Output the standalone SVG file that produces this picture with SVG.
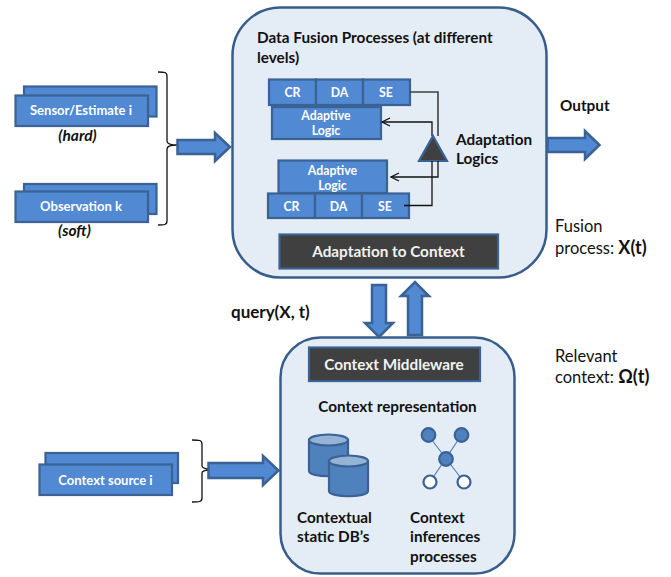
<svg xmlns="http://www.w3.org/2000/svg" width="671" height="577" viewBox="0 0 671 577">
<defs>
<style>
text{font-family:"Lato","Liberation Sans",sans-serif;font-weight:700;font-size:15.3px;fill:#111}
.w{fill:#fff;font-size:13px;text-anchor:middle}
.s{fill:#fff;font-size:12.3px;text-anchor:middle}
.big{fill:#f2f2f2;font-size:15.3px;text-anchor:middle}
.n{font-weight:400;font-size:16.5px}
.nb{font-weight:700;font-size:18px}
.i{font-style:italic;font-size:15.5px;text-anchor:middle}
.pane{fill:#e4ecf6;stroke:#385d8a;stroke-width:2.5}
.b{fill:#5189d3;stroke:#3a6294;stroke-width:2.2}
.d{fill:#404040;stroke:#3a6294;stroke-width:2.2}
.a{fill:#5189d3;stroke:#3a6294;stroke-width:2.5;stroke-linejoin:miter}
.l{fill:none;stroke:#111;stroke-width:1.3}
.g{fill:none;stroke:#404040;stroke-width:1.6}
.net{stroke:#4f81bd;stroke-width:1.2}
.cy{fill:#4f81bd;stroke:#3a6294;stroke-width:2.2}
.top{fill:#95b3d7;stroke:#3a6294;stroke-width:2.2}
</style>
<marker id="open" markerWidth="11" markerHeight="11" refX="9" refY="5" orient="auto" markerUnits="userSpaceOnUse"><path d="M1 1L9 5L1 9" fill="none" stroke="#111" stroke-width="1.3"/></marker>
</defs>
<rect width="671" height="577" fill="#fff"/>
<g id="fusion-pane">
<rect class="pane" x="232.500" y="7.500" width="314" height="270" rx="48"/>
<text x="257" y="43">Data Fusion Processes (at different</text>
<text x="257" y="63">levels)</text>
</g>
<g id="context-pane">
<rect class="pane" x="280.500" y="337.500" width="234" height="236" rx="40"/>
<text x="397.500" y="412" text-anchor="middle">Context representation</text>
</g>
<g id="connectors">
<path class="l" d="M158 72C164 72 167 72 167 76V141C167 144 170 145 177 145C170 145 167 146 167 149V221C167 225 164 225 158 225"/>
<path class="l" d="M192 440C199 440 202 440 202 444V466C202 468 205 469 212 469.500C205 470 202 471 202 473V498C202 502 199 502 192 502"/>
<path class="a" d="M177.500 140H215V133L230 147L215 161V154H177.500Z"/>
<path class="a" d="M208.500 463H263V456L278.500 470.500L263 485V478H208.500Z"/>
<path class="a" d="M547.500 138H585V131L599.500 145L585 159V152H547.500Z"/>
<path class="a" d="M372 285H386V323H393L379 337L365 323H372Z"/>
<path class="a" d="M408 335V296H401L415 282L429 296H422V335Z"/>
</g>
<g id="cells-top">
<rect class="b" x="269" y="79.500" width="47" height="25.500"/>
<rect class="b" x="316" y="79.500" width="47" height="25.500"/>
<rect class="b" x="363" y="79.500" width="47" height="25.500"/>
<text class="s" x="292.500" y="96.500">CR</text>
<text class="s" x="339.500" y="96.500">DA</text>
<text class="s" x="386" y="96.500">SE</text>
</g>
<g id="adaptive-top">
<rect class="b" x="272" y="107" width="109" height="32"/>
<text class="s" x="326" y="119.500">Adaptive</text>
<text class="s" x="326" y="135">Logic</text>
</g>
<g id="adaptive-bottom">
<rect class="b" x="278.500" y="160.500" width="108.500" height="32.500"/>
<text class="s" x="332.500" y="174.500">Adaptive</text>
<text class="s" x="332.500" y="189.500">Logic</text>
</g>
<g id="cells-bottom">
<rect class="b" x="268" y="193.500" width="47" height="24.500"/>
<rect class="b" x="315" y="193.500" width="47" height="24.500"/>
<rect class="b" x="362" y="193.500" width="47" height="24.500"/>
<text class="s" x="291.500" y="210.500">CR</text>
<text class="s" x="338.500" y="210.500">DA</text>
<text class="s" x="385" y="210.500">SE</text>
</g>
<g id="adaptation-logics">
<path class="g" d="M410 92H438V136"/>
<path class="l" d="M432 136V122H382" marker-end="url(#open)"/>
<path d="M433 136L447 161H419Z" fill="#404040" stroke="#3a6294" stroke-width="2.2"/>
<path class="l" d="M438 161V177H391" marker-end="url(#open)"/>
<path class="l" d="M404 205.500H432V161"/>
<text x="456" y="145">Adaptation</text>
<text x="456" y="164">Logics</text>
</g>
<g id="adaptation-context">
<rect class="d" x="279.500" y="234.500" width="218.500" height="34"/>
<text class="big" x="388.500" y="257">Adaptation to Context</text>
</g>
<g id="sensor">
<rect class="b" x="24" y="86.500" width="132.500" height="30"/>
<rect class="b" x="15.500" y="95.500" width="132.500" height="30.500"/>
<text class="w" x="81" y="115">Sensor/Estimate i</text>
<text class="i" x="77.500" y="141">(hard)</text>
</g>
<g id="observation">
<rect class="b" x="24" y="184" width="132.500" height="30"/>
<rect class="b" x="15.500" y="191.500" width="132.500" height="30.500"/>
<text class="w" x="81" y="211">Observation k</text>
<text class="i" x="74.500" y="236">(soft)</text>
</g>
<g id="context-source">
<rect class="b" x="45.500" y="453" width="132.500" height="30"/>
<rect class="b" x="39.500" y="464.500" width="132.500" height="30.500"/>
<text class="w" x="105.500" y="485">Context source i</text>
</g>
<g id="middleware">
<rect class="d" x="309" y="347.500" width="171" height="33.500"/>
<text class="big" x="394" y="370">Context Middleware</text>
</g>
<g id="databases">
<path class="cy" d="M309 440V471C309 478 348 478 348 471V440Z"/>
<ellipse class="top" cx="328.500" cy="440" rx="19.500" ry="5.500"/>
<path class="cy" d="M329 461V491C329 498 368 498 368 491V461Z"/>
<ellipse class="top" cx="348.500" cy="461" rx="19.500" ry="5.500"/>
<text x="297" y="523">Contextual</text>
<text x="297" y="542">static DB’s</text>
</g>
<g id="inference">
<path class="net" d="M428 435L464 482M461.500 435L430 482"/>
<circle class="cy" cx="428.500" cy="435" r="6.800"/>
<circle class="cy" cx="461.500" cy="435" r="6.800"/>
<circle class="cy" cx="446" cy="459" r="6.800"/>
<circle cx="430" cy="482" r="6.500" fill="#fff" stroke="#3a6294" stroke-width="2.2"/>
<circle cx="464" cy="482" r="6.500" fill="#fff" stroke="#3a6294" stroke-width="2.2"/>
<text x="410" y="523">Context</text>
<text x="410" y="542">inferences</text>
<text x="410" y="562">processes</text>
</g>
<g id="labels">
<text x="560" y="111">Output</text>
<text x="231" y="318" style="font-size:17px">query(X, t)</text>
<text class="n" x="555" y="232">Fusion</text>
<text class="n" x="555" y="254">process: <tspan class="nb">X(t)</tspan></text>
<text class="n" x="555" y="362">Relevant</text>
<text class="n" x="555" y="383">context: <tspan class="nb">Ω(t)</tspan></text>
</g>
</svg>
